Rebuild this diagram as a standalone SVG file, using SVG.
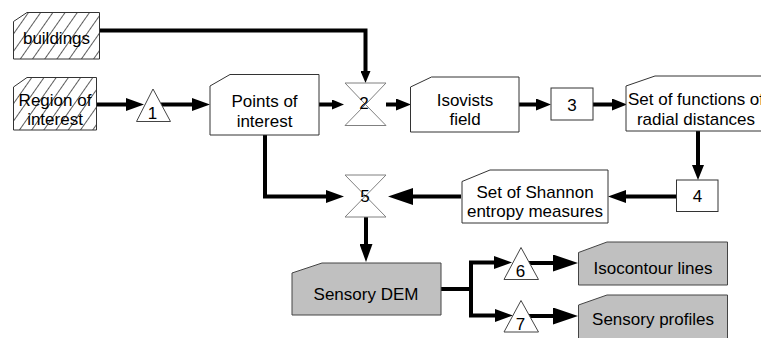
<svg xmlns="http://www.w3.org/2000/svg" width="761" height="338" viewBox="0 0 761 338">
<style>
.box{fill:#ffffff;stroke:#333333;stroke-width:1}
.gbox{fill:#c0c0c0;stroke:#444444;stroke-width:1}
.hbox{fill:url(#hatch);stroke:#333333;stroke-width:1}
.hg{fill:#ffffff;stroke:#808080;stroke-width:1}
.tri{fill:#ffffff;stroke:#444444;stroke-width:1}
.t{font-family:"Liberation Sans",Arial,sans-serif;font-size:17px;fill:#000000;text-anchor:middle}
.c{fill:none;stroke:#000000;stroke-width:4}
</style>
<defs>
<pattern id="hatch" patternUnits="userSpaceOnUse" width="10" height="10" patternTransform="rotate(35)">
<rect width="10" height="10" fill="#ffffff"/>
<line x1="0.5" y1="0" x2="0.5" y2="10" stroke="#333333" stroke-width="0.8"/>
</pattern>
<marker id="a12" markerUnits="userSpaceOnUse" markerWidth="12" markerHeight="10" viewBox="0 0 12 10" refX="0" refY="5" orient="auto"><path d="M0,0 L12,5 L0,10 z" fill="#000"/></marker>
<marker id="a15" markerUnits="userSpaceOnUse" markerWidth="15" markerHeight="12" viewBox="0 0 15 12" refX="0" refY="6" orient="auto"><path d="M0,0 L15,6 L0,12 z" fill="#000"/></marker>
<marker id="a18" markerUnits="userSpaceOnUse" markerWidth="18" markerHeight="13" viewBox="0 0 18 13" refX="0" refY="6.5" orient="auto"><path d="M0,0 L18,6.5 L0,13 z" fill="#000"/></marker>
<marker id="a25" markerUnits="userSpaceOnUse" markerWidth="25" markerHeight="17" viewBox="0 0 25 17" refX="0" refY="8.5" orient="auto"><path d="M0,0 L25,8.5 L0,17 z" fill="#000"/></marker>
</defs>
<rect width="761" height="338" fill="#ffffff"/>

<g id="connectors">
<path class="c" d="M96,104.5 H126" marker-end="url(#a18)"/>
<path class="c" d="M161,104.5 H192" marker-end="url(#a18)"/>
<path class="c" d="M319,104.5 H332" marker-end="url(#a12)"/>
<path class="c" d="M99.5,30.5 H365.5 V71" marker-end="url(#a12)"/>
<path class="c" d="M386,104.5 H396" marker-end="url(#a15)"/>
<path class="c" d="M519,104.5 H536" marker-end="url(#a15)"/>
<path class="c" d="M593,104.5 H612" marker-end="url(#a15)"/>
<path class="c" d="M698,131 V165" marker-end="url(#a15)"/>
<path class="c" d="M676,196.5 H626" marker-end="url(#a18)"/>
<path class="c" d="M461,196.5 H413" marker-end="url(#a25)"/>
<path class="c" d="M265,135 V196.5 H326" marker-end="url(#a18)"/>
<path class="c" d="M366,217 V244" marker-end="url(#a18)"/>
<path class="c" d="M441,289 H471"/>
<path class="c" d="M471,262.5 V316"/>
<path class="c" d="M469,262.5 H494" marker-end="url(#a18)"/>
<path class="c" d="M469,315.5 H495" marker-end="url(#a18)"/>
<path class="c" d="M529,263 H553" marker-end="url(#a25)"/>
<path class="c" d="M529,316 H553" marker-end="url(#a25)"/>
</g>

<g id="buildings">
<path class="hbox" d="M13.5,21.5 L27,12.5 H99.5 V59 H13.5 Z"/>
<text class="t" x="56.5" y="44">buildings</text>
</g>
<g id="region">
<path class="hbox" d="M13.5,87 L27,77.5 H96.5 V130 H13.5 Z"/>
<text class="t" x="55" y="106">Region of</text>
<text class="t" x="55" y="125">interest</text>
</g>
<g id="op1">
<path class="tri" d="M153,89 L170.5,121.5 H136.5 Z"/>
<text class="t" x="152.5" y="119">1</text>
</g>
<g id="points">
<path class="box" d="M210,86 L230,74.5 H319 V135 H210 Z"/>
<text class="t" x="264.5" y="106.5">Points of</text>
<text class="t" x="264.5" y="126.5">interest</text>
</g>
<g id="op2">
<path class="hg" d="M345,83 H386 L365.5,104.5 Z M365.5,104.5 L386,125.5 H345 Z"/>
<text class="t" x="364" y="108.5">2</text>
</g>
<g id="isovists">
<path class="box" d="M410.5,87 L431.5,77 H519 V132 H410.5 Z"/>
<text class="t" x="465" y="106">Isovists</text>
<text class="t" x="465" y="125">field</text>
</g>
<g id="op3">
<rect class="box" x="551" y="88" width="42" height="32"/>
<text class="t" x="572" y="110.5">3</text>
</g>
<g id="functions">
<path class="box" d="M626,86 L655,76 H790 V131 H626 Z"/>
<text class="t" x="696" y="105">Set of functions of</text>
<text class="t" x="696" y="125">radial distances</text>
</g>
<g id="op4">
<rect class="box" x="676.5" y="180" width="41.5" height="31.5"/>
<text class="t" x="697.5" y="202">4</text>
</g>
<g id="shannon">
<path class="box" d="M462,181.5 L490,170 H608 V223 H462 Z"/>
<text class="t" x="535" y="198">Set of Shannon</text>
<text class="t" x="535" y="217">entropy measures</text>
</g>
<g id="op5">
<path class="hg" d="M345,175 H386 L365.5,196 Z M365.5,196 L386,217 H345 Z"/>
<text class="t" x="365" y="201.5">5</text>
</g>
<g id="dem">
<path class="gbox" d="M292,273 L322,263 H441 V315 H292 Z"/>
<text class="t" x="366" y="300">Sensory DEM</text>
</g>
<g id="op6">
<path class="tri" d="M521,247.5 L538.5,279.5 H504 Z"/>
<text class="t" x="520.5" y="277">6</text>
</g>
<g id="op7">
<path class="tri" d="M521,300.5 L538.5,332 H504 Z"/>
<text class="t" x="520.5" y="330">7</text>
</g>
<g id="isocontour">
<path class="gbox" d="M578.5,252.5 L607,242 H727.5 V285 H578.5 Z"/>
<text class="t" x="653" y="273.5">Isocontour lines</text>
</g>
<g id="profiles">
<path class="gbox" d="M578.5,305 L607,295 H727.5 V345 H578.5 Z"/>
<text class="t" x="653" y="325">Sensory profiles</text>
</g>
</svg>
